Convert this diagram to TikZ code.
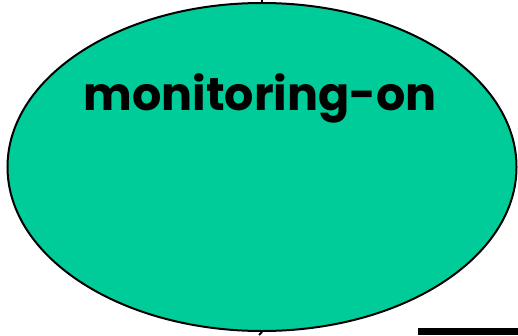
\documentclass[tikz,border=0pt]{standalone}
\usepackage{fontspec}
\setmainfont{Poppins}
\usetikzlibrary{shapes.geometric}
\definecolor{stgreen}{HTML}{00CC99}
\begin{document}
\begin{tikzpicture}[x=1pt,y=1pt,
  state/.style={ellipse,draw=black,line width=2pt,fill=stgreen,minimum width=509pt,minimum height=328pt,inner sep=0pt},
  conn/.style={draw=black,line width=2pt}]
\useasboundingbox (0,0) rectangle (518,335);
\node[state] (s) at (262,168) {};
\node[font=\fontsize{46}{48}\selectfont\bfseries,anchor=base] (lbl) at (260,224) {monitoring-on};
\coordinate (topend) at (262,335);
\coordinate (botend) at (259,0);
\draw[conn] (s.north) -- (topend);
\draw[conn] (s.south) -- (botend);
\node[fill=black,minimum width=100pt,minimum height=7pt,inner sep=0pt,anchor=south west] (bar) at (418,0) {};
\end{tikzpicture}
\end{document}
